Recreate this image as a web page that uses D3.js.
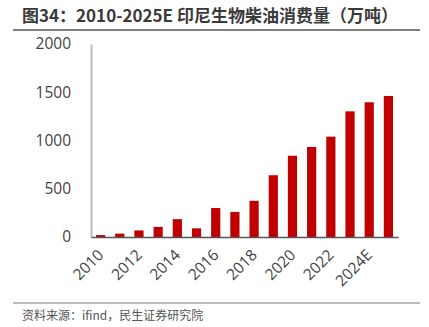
<!DOCTYPE html>
<html><head><meta charset="utf-8">
<script src="https://cdn.jsdelivr.net/npm/d3@7"></script>
<style>body{margin:0;background:#fff;}svg{display:block;font-family:"Open Sans","Noto Sans CJK SC",sans-serif;}</style>
</head><body>
<svg id="c" width="429" height="327"></svg>
<script>
const categories = ["2010","2011","2012","2013","2014","2015","2016","2017","2018","2019","2020","2021","2022","2023","2024E","2025E"];
const values = [20,35,68,105,185,90,300,260,375,640,842,933,1040,1302,1396,1461];
const yTicks = [0,500,1000,1500,2000];
const xTickLabels = ["2010","2012","2014","2016","2018","2020","2022","2024E"];
const title = "图34：2010-2025E 印尼生物柴油消费量（万吨）";
const source = "资料来源：ifind，民生证券研究院";

const svg = d3.select("#c");
const m = {l:91, r:398, t:44, b:237};
const x = d3.scaleBand().domain(categories).range([m.l, m.r]).paddingInner(0.52).paddingOuter(0.26);
const y = d3.scaleLinear().domain([0,2000]).range([m.b, m.t]);

// title
svg.append("text").attr("x",22).attr("y",22).attr("font-size",17).attr("font-weight","bold")
  .attr("fill","#3a3a3a").attr("font-family","'Noto Sans CJK SC','Open Sans',sans-serif").text(title);
svg.append("line").attr("x1",13).attr("x2",420).attr("y1",30).attr("y2",30).attr("stroke","#555").attr("stroke-width",1.3);

// y axis
const ya = svg.append("g").attr("transform",`translate(${m.l},0)`)
  .call(d3.axisLeft(y).tickValues(yTicks).tickFormat(d3.format("d")).tickSize(0).tickPadding(20));
ya.select(".domain").attr("stroke","#bbb").attr("stroke-width",2);
ya.selectAll("text").attr("font-size",15.5).attr("fill","#444").attr("font-family","'Open Sans',sans-serif");

// bars
svg.append("g").selectAll("rect").data(values).join("rect")
  .attr("x",(d,i)=>x(categories[i])).attr("width",x.bandwidth())
  .attr("y",d=>y(d)).attr("height",d=>y(0)-y(d)).attr("fill","#c00000");

// x axis
const xa = svg.append("g").attr("transform",`translate(0,${m.b})`)
  .call(d3.axisBottom(x).tickValues(xTickLabels).tickSize(0).tickSizeOuter(0).tickFormat(d=>d));
xa.select(".domain").attr("stroke","#555").attr("stroke-width",1.5);
xa.selectAll("text").attr("font-size",15.5).attr("fill","#444").attr("font-family","'Open Sans',sans-serif")
  .attr("text-anchor","end").attr("dy",0).attr("y",0)
  .attr("transform","translate(4,19) rotate(-45)");

// footer
svg.append("line").attr("x1",13).attr("x2",420).attr("y1",303).attr("y2",303).attr("stroke","#777").attr("stroke-width",1);
svg.append("text").attr("x",22).attr("y",320).attr("font-size",12).attr("fill","#555")
  .attr("font-family","'Noto Sans CJK SC',sans-serif").text(source);
</script>
</body></html>
